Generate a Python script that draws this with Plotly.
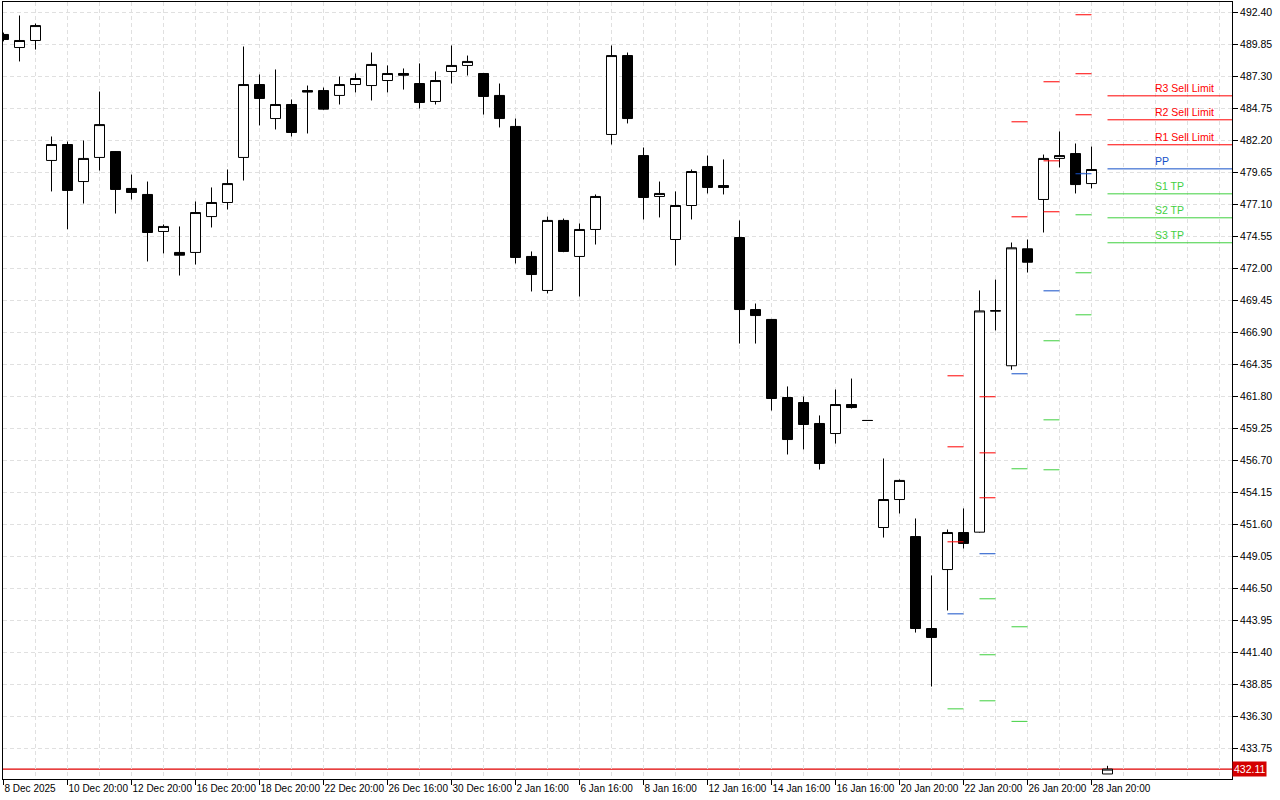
import plotly.graph_objects as go

# ---------------- data (H12 candles) ----------------
bar_index = list(range(70))
opens = [490.65, 489.61, 490.17, 480.61, 481.88, 478.93, 480.85, 481.32, 478.38, 477.90,
         474.95, 473.28, 473.28, 476.14, 477.26, 480.85, 486.66, 483.95, 485.07, 486.18,
         486.18, 485.79, 486.66, 486.58, 486.98, 487.54, 486.74, 485.31, 487.70, 488.18,
         487.54, 485.79, 483.32, 472.96, 470.25, 475.83, 472.96, 475.11, 482.68, 488.97,
         481.00, 477.74, 474.31, 477.02, 480.13, 478.61, 474.47, 468.73, 467.94, 461.72,
         461.32, 459.65, 458.85, 461.16, 459.89, 451.36, 453.59, 450.64, 443.31, 448.01,
         450.96, 450.99, 468.60, 464.25, 473.57, 477.50, 480.77, 481.16, 478.77, 431.72]
highs = [490.80, 492.16, 491.52, 482.52, 482.12, 482.20, 486.10, 481.36, 479.49, 478.93,
         475.51, 475.35, 477.34, 478.46, 479.89, 489.69, 487.46, 487.86, 485.47, 486.58,
         486.42, 487.30, 487.54, 489.21, 488.18, 487.94, 488.34, 487.70, 489.77, 488.97,
         487.58, 486.74, 483.95, 473.36, 476.14, 475.98, 475.59, 477.90, 489.77, 489.21,
         481.64, 478.93, 478.14, 479.89, 481.00, 480.69, 475.83, 469.21, 467.98, 462.60,
         461.80, 460.29, 462.36, 463.23, 459.89, 456.86, 455.19, 452.08, 447.54, 451.20,
         452.88, 470.25, 471.12, 474.07, 474.31, 481.08, 482.92, 481.96, 481.72, 432.37]
lows = [490.10, 488.50, 489.45, 478.14, 475.13, 477.18, 479.81, 476.38, 477.50, 472.56,
        473.20, 471.44, 472.32, 475.27, 476.70, 479.01, 483.40, 483.08, 482.52, 482.76,
        484.65, 485.07, 486.03, 485.39, 486.03, 486.26, 484.75, 485.07, 486.74, 487.38,
        484.27, 483.24, 472.40, 470.17, 470.01, 473.30, 469.77, 473.91, 481.88, 483.56,
        475.91, 476.07, 472.24, 475.91, 477.98, 477.90, 466.02, 466.02, 460.68, 457.18,
        457.58, 455.98, 458.05, 460.84, 459.89, 450.56, 452.48, 442.99, 438.69, 444.75,
        449.69, 450.95, 467.06, 463.93, 471.68, 474.87, 480.05, 477.98, 478.38, 431.72]
closes = [490.25, 490.17, 491.36, 481.88, 478.22, 480.77, 483.47, 478.30, 478.06, 474.87,
          475.35, 473.06, 476.46, 477.26, 478.77, 486.66, 485.55, 485.07, 482.84, 486.06,
          484.70, 486.66, 487.14, 488.26, 487.54, 487.40, 485.23, 486.98, 488.18, 488.50,
          485.71, 483.95, 472.88, 471.52, 475.83, 473.36, 475.11, 477.74, 488.97, 483.95,
          477.66, 477.98, 477.02, 479.73, 478.46, 478.46, 468.73, 468.25, 461.64, 458.37,
          459.57, 456.46, 461.16, 460.92, 459.89, 453.59, 455.11, 443.31, 442.60, 450.96,
          450.09, 468.62, 468.64, 473.65, 472.50, 480.77, 481.00, 478.69, 479.89, 432.11]

x_tick_bars = list(range(0, 69, 4))
x_tick_labels = ["8 Dec 2025", "10 Dec 20:00", "12 Dec 20:00", "16 Dec 20:00", "18 Dec 20:00",
                 "22 Dec 20:00", "26 Dec 16:00", "30 Dec 16:00", "2 Jan 16:00", "6 Jan 16:00",
                 "8 Jan 16:00", "12 Jan 16:00", "14 Jan 16:00", "16 Jan 16:00", "20 Jan 20:00",
                 "22 Jan 20:00", "26 Jan 20:00", "28 Jan 20:00"]

y_tick_values = [433.75, 436.30, 438.85, 441.40, 443.95, 446.50, 449.05, 451.60, 454.15,
                 456.70, 459.25, 461.80, 464.35, 466.90, 469.45, 472.00, 474.55, 477.10,
                 479.65, 482.20, 484.75, 487.30, 489.85, 492.40]
y_tick_labels = ["%.2f" % v for v in y_tick_values]

# daily pivot levels drawn per day (starting bar of each day)
pivot_bars = [59, 61, 63, 65, 67]
r3 = [463.45, 461.78, None, 486.88, 492.22]
r2 = [457.79, 457.31, 483.69, 480.58, 487.52]
r1 = [450.22, 453.73, 476.12, 476.52, 484.25]
pp = [444.48, 449.27, 463.61, 470.22, 479.55]
s1 = [436.91, 445.68, 456.04, 466.24, 476.28]
s2 = [None, 441.22, 443.45, 459.94, 471.66]
s3 = [None, 437.55, 435.91, 455.96, 468.31]

# current day's levels with labels
level_names = ["R3 Sell Limit", "R2 Sell Limit", "R1 Sell Limit", "PP", "S1 TP", "S2 TP", "S3 TP"]
level_values = [485.76, 483.85, 481.86, 479.94, 477.95, 476.04, 474.05]
level_start_bar = 69
label_bar = 71.85

current_price = 432.11

RED = "#ff0000"
BLUE = "#1450c8"
GREEN = "#3fd03f"
level_colors = [RED, RED, RED, BLUE, GREEN, GREEN, GREEN]

X_RANGE = [-0.03125, 76.78125]
Y_RANGE = [431.3195, 493.237]

fig = go.Figure()

fig.add_trace(go.Candlestick(
    x=bar_index, open=opens, high=highs, low=lows, close=closes,
    increasing=dict(fillcolor="white", line=dict(color="black", width=1)),
    decreasing=dict(fillcolor="black", line=dict(color="black", width=1)),
    whiskerwidth=0, showlegend=False, hoverinfo="skip"))


def segs(levels_list):
    xs, ys = [], []
    for levels in levels_list:
        for b, v in zip(pivot_bars, levels):
            if v is None:
                continue
            xs += [b, b + 1, None]
            ys += [v, v, None]
    return xs, ys


for lv, col in [([r3, r2, r1], RED), ([pp], BLUE), ([s1, s2, s3], GREEN)]:
    xs, ys = segs(lv)
    fig.add_trace(go.Scatter(x=xs, y=ys, mode="lines", line=dict(color=col, width=1),
                             showlegend=False, hoverinfo="skip"))

for name, val, col in zip(level_names, level_values, level_colors):
    fig.add_trace(go.Scatter(x=[level_start_bar, X_RANGE[1]], y=[val, val], mode="lines",
                             line=dict(color=col, width=1), showlegend=False, hoverinfo="skip"))
    fig.add_annotation(x=label_bar, y=val, text=name, showarrow=False, xanchor="left",
                       yanchor="bottom", yshift=0, font=dict(family="Liberation Sans", size=10.5, color=col))

fig.add_shape(type="line", xref="paper", x0=0, x1=1, y0=current_price, y1=current_price,
              line=dict(color="#e00000", width=1.2), layer="below")
fig.add_annotation(xref="paper", x=1, y=current_price, text="%.2f" % current_price, showarrow=False,
                   xanchor="left", yanchor="middle", bgcolor="#d40000", borderpad=1,
                   font=dict(family="Liberation Sans", size=10.5, color="white"))

fig.update_layout(
    width=1280, height=800, autosize=False,
    margin=dict(l=3, r=48, t=2, b=21, pad=0),
    paper_bgcolor="white", plot_bgcolor="white",
    boxgap=0.375, boxgroupgap=0,
    showlegend=False, hovermode=False,
    font=dict(family="Liberation Sans", size=10.5, color="black"),
    xaxis=dict(range=X_RANGE, rangeslider=dict(visible=False), tickmode="array",
               tickvals=x_tick_bars, ticktext=x_tick_labels, ticks="outside", ticklen=5,
               tickcolor="black", ticklabelposition="outside right", tickangle=0,
               tickfont=dict(family="Liberation Sans", size=10, color="black"),
               automargin=False, showgrid=False,
               zeroline=False, showline=True, linecolor="black", linewidth=1, mirror=True,
               minor=dict(tickmode="array", tickvals=list(range(2, 77, 2)), showgrid=True,
                          gridcolor="#e0e0e0", griddash="4px,3px", gridwidth=1, ticks=""),
               fixedrange=True),
    yaxis=dict(range=Y_RANGE, side="right", tickmode="array", tickvals=y_tick_values,
               ticktext=y_tick_labels, ticks="outside", ticklen=5, tickcolor="black",
               automargin=False,
               showgrid=True, gridcolor="#e0e0e0", griddash="4px,3px", gridwidth=1,
               zeroline=False, showline=True, linecolor="black", linewidth=1, mirror=True,
               fixedrange=True),
)

fig.write_html("out.html", config={"displayModeBar": False},
               post_script="document.body.style.margin='0';document.body.style.overflow='hidden';")
